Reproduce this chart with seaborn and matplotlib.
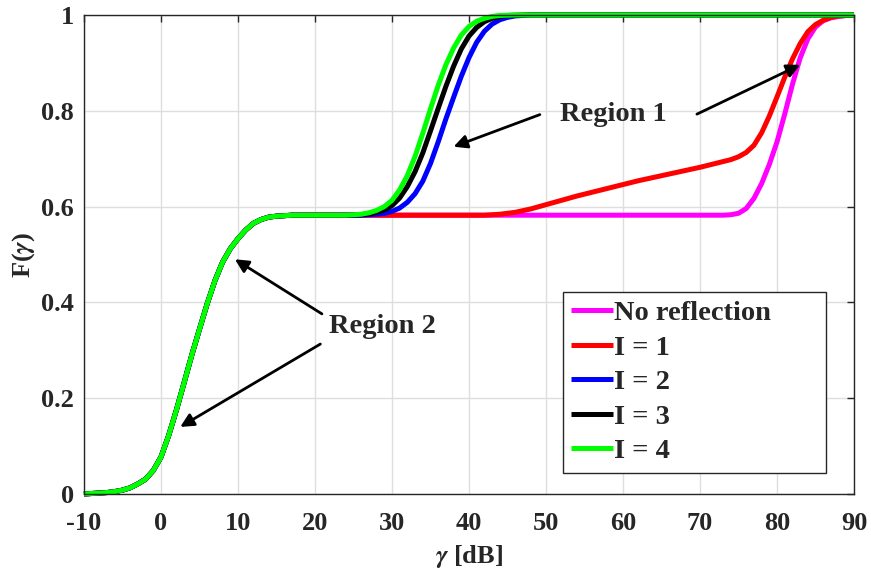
import numpy as np
import pandas as pd
import matplotlib
matplotlib.use('Agg')
import matplotlib.pyplot as plt
import seaborn as sns

# shared rising part (all five curves overlap here)
gamma_low = [-10, -9, -8, -7, -6, -5, -4, -3, -2, -1, 0, 1, 2, 3, 4, 5, 6, 7, 8, 9,
             10, 11, 12, 13, 14, 15, 16, 17, 18]
F_low = [0.000, 0.001, 0.002, 0.003, 0.005, 0.008, 0.013, 0.021, 0.031, 0.049,
         0.077, 0.122, 0.175, 0.232, 0.290, 0.344, 0.397, 0.445, 0.484, 0.512,
         0.533, 0.551, 0.565, 0.573, 0.578, 0.580, 0.581, 0.582, 0.582]

# upper parts of each curve
gamma_noref = [20, 30, 40, 50, 60, 70, 72, 73, 74, 75, 76, 77, 78, 79, 80, 81, 82,
               83, 84, 85, 86, 87, 88, 89, 90]
F_noref = [0.582, 0.582, 0.582, 0.582, 0.582, 0.582, 0.582, 0.582, 0.583, 0.586,
           0.596, 0.617, 0.648, 0.688, 0.735, 0.793, 0.855, 0.910, 0.950, 0.975,
           0.988, 0.994, 0.997, 0.999, 1.0]

gamma_I1 = [20, 30, 40, 42, 44, 46, 48, 50, 52, 54, 56, 58, 60, 62, 64, 66, 68, 70,
            72, 74, 75, 76, 77, 78, 79, 80, 81, 82, 83, 84, 85, 86, 87, 88, 89, 90]
F_I1 = [0.582, 0.582, 0.582, 0.582, 0.584, 0.588, 0.595, 0.604, 0.613, 0.622,
        0.630, 0.638, 0.646, 0.654, 0.661, 0.668, 0.675, 0.682, 0.690, 0.698,
        0.704, 0.713, 0.728, 0.754, 0.789, 0.829, 0.870, 0.908, 0.940, 0.965,
        0.980, 0.989, 0.995, 0.998, 0.999, 1.0]

gamma_I2 = [20, 24, 26, 28, 29, 30, 31, 32, 33, 34, 35, 36, 37, 38, 39, 40, 41, 42,
            43, 44, 45, 46, 48, 60, 70, 80, 90]
F_I2 = [0.582, 0.582, 0.582, 0.584, 0.586, 0.590, 0.597, 0.609, 0.627, 0.653,
        0.690, 0.735, 0.783, 0.828, 0.872, 0.911, 0.943, 0.966, 0.981, 0.990,
        0.995, 0.998, 1.0, 1.0, 1.0, 1.0, 1.0]

gamma_I3 = [20, 24, 26, 27, 28, 29, 30, 31, 32, 33, 34, 35, 36, 37, 38, 39, 40, 41,
            42, 43, 44, 45, 47, 60, 70, 80, 90]
F_I3 = [0.582, 0.582, 0.583, 0.585, 0.588, 0.593, 0.602, 0.618, 0.642, 0.673,
        0.712, 0.758, 0.805, 0.851, 0.893, 0.929, 0.956, 0.974, 0.986, 0.993,
        0.997, 0.999, 1.0, 1.0, 1.0, 1.0, 1.0]

gamma_I4 = [20, 22, 24, 25, 26, 27, 28, 29, 30, 31, 32, 33, 34, 35, 36, 37, 38, 39,
            40, 41, 42, 43, 44, 46, 60, 70, 80, 90]
F_I4 = [0.582, 0.582, 0.582, 0.583, 0.584, 0.587, 0.592, 0.600, 0.613, 0.635,
        0.665, 0.705, 0.753, 0.804, 0.853, 0.896, 0.931, 0.958, 0.976, 0.987,
        0.993, 0.997, 0.999, 1.0, 1.0, 1.0, 1.0, 1.0]

labels = ['No reflection', 'I = 1', 'I = 2', 'I = 3', 'I = 4']
colors = ['#ff00ff', '#ff0000', '#0000ff', '#000000', '#00ff00']
uppers = [(gamma_noref, F_noref), (gamma_I1, F_I1), (gamma_I2, F_I2),
          (gamma_I3, F_I3), (gamma_I4, F_I4)]

frames = []
for lab, (g, f) in zip(labels, uppers):
    frames.append(pd.DataFrame({'gamma': gamma_low + g, 'F': F_low + f, 'case': lab}))
df = pd.concat(frames, ignore_index=True)

sns.set_theme(style='whitegrid')
plt.rcParams['font.family'] = ['Liberation Serif', 'DejaVu Serif']
plt.rcParams['font.weight'] = 'bold'
plt.rcParams['mathtext.fontset'] = 'stix'
plt.rcParams['axes.unicode_minus'] = False

fig = plt.figure(figsize=(8.71, 5.72), dpi=100)
ax = fig.add_axes([0.0964, 0.1364, 0.8841, 0.8374])

sns.lineplot(data=df, x='gamma', y='F', hue='case', hue_order=labels,
             palette=colors, linewidth=3.6, sort=False, estimator=None, ax=ax)
for ln in ax.lines:
    ln.set_clip_on(False)
    ln.set_solid_capstyle('butt')

ax.set_xlim(-10, 90)
ax.set_ylim(0, 1)
ax.set_xticks(range(-10, 91, 10))
ax.set_yticks([0, 0.2, 0.4, 0.6, 0.8, 1])
ax.set_yticklabels(['0', '0.2', '0.4', '0.6', '0.8', '1'])
ax.tick_params(direction='in', length=5, width=1, color='#262626', labelsize=19,
               top=True, right=True, labelcolor='#262626')
ax.tick_params(axis='x', pad=13)
ax.tick_params(axis='y', pad=7)
for s in ax.spines.values():
    s.set_color('#262626')
    s.set_linewidth(1.0)
ax.grid(True, color='#dedede', linewidth=1.0)

ax.set_xlabel(r'$\gamma$ [dB]', fontsize=19, fontweight='bold', color='#262626', labelpad=6)
ax.set_ylabel(r'F($\gamma$)', fontsize=19, fontweight='bold', color='#262626', labelpad=3)

arrow = dict(arrowstyle='-|>', color='black', lw=2, mutation_scale=20, shrinkA=0, shrinkB=0)
ax.text(58.8, 0.793, 'Region 1', fontsize=20.5, fontweight='bold', ha='center', va='center')
ax.annotate('', xy=(38.0, 0.725), xytext=(49.2, 0.792), arrowprops=arrow)
ax.annotate('', xy=(83.0, 0.896), xytext=(69.6, 0.793), arrowprops=arrow)
ax.text(28.8, 0.349, 'Region 2', fontsize=20.5, fontweight='bold', ha='center', va='center')
ax.annotate('', xy=(9.6, 0.49), xytext=(20.9, 0.376), arrowprops=arrow)
ax.annotate('', xy=(2.5, 0.14), xytext=(20.7, 0.313), arrowprops=arrow)

leg = ax.legend(loc='upper left', bbox_to_anchor=(0.6217, 0.0557, 0.3416, 0.3666),
                mode='expand', borderaxespad=0,
                fontsize=20.5, frameon=True, fancybox=False, handlelength=1.45,
                handletextpad=0.05, labelspacing=0.3, borderpad=0.3, title=None)
leg.get_frame().set_edgecolor('#262626')
leg.get_frame().set_linewidth(1.0)
leg.get_frame().set_alpha(1)
for t in leg.get_texts():
    t.set_fontweight('bold')

fig.savefig('out.png', dpi=100)
